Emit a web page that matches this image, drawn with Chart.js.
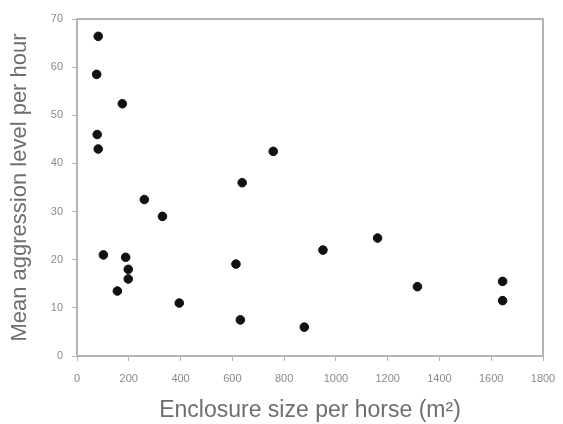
<!DOCTYPE html>
<html>
<head>
<meta charset="utf-8">
<script src="https://cdn.jsdelivr.net/npm/chart.js@4"></script>
<style>
  html, body { margin: 0; padding: 0; background: #fff; }
  #wrap { width: 563px; height: 424px; }
</style>
</head>
<body>
<div id="wrap"><canvas id="scatterCanvas" width="563" height="424"></canvas></div>
<script>
// Enclosure size per horse (m2) and mean aggression level per hour
const enclosureSize = [82, 76, 175, 78, 82, 260, 330, 102, 188, 198, 198, 156, 395,
  614, 631, 878, 950, 1161, 1315, 1644, 1644, 758, 638];
const aggression = [66.4, 58.5, 52.4, 46, 43, 32.5, 29, 21, 20.5, 18, 16, 13.5, 11,
  19.1, 7.5, 6, 22, 24.5, 14.4, 15.5, 11.5, 42.5, 36];

const xTicks = [0, 200, 400, 600, 800, 1000, 1200, 1400, 1600, 1800];
const yTicks = [0, 10, 20, 30, 40, 50, 60, 70];

const points = enclosureSize.map((x, i) => ({ x: x, y: aggression[i] }));

// Grey box round the plot area
const frame = {
  id: 'frame',
  afterDatasetsDraw(chart) {
    const a = chart.chartArea;
    const ctx = chart.ctx;
    ctx.save();
    ctx.strokeStyle = '#b4b4b4';
    ctx.lineWidth = 2;
    ctx.strokeRect(a.left, a.top, a.right - a.left, a.bottom - a.top);
    ctx.restore();
  }
};

const tickFont = { family: 'Liberation Sans', size: 11 };

new Chart(document.getElementById('scatterCanvas'), {
  type: 'scatter',
  data: {
    datasets: [{
      data: points,
      backgroundColor: '#111',
      borderColor: '#111',
      pointRadius: 4.3
    }]
  },
  options: {
    responsive: false,
    animation: false,
    layout: { padding: { left: 0, top: 19, right: 20, bottom: 0 } },
    plugins: { legend: { display: false }, tooltip: { enabled: false } },
    scales: {
      x: {
        type: 'linear',
        min: 0,
        max: 1800,
        afterBuildTicks: s => { s.ticks = xTicks.map(v => ({ value: v })); },
        afterFit: s => { s.height = 68; s.paddingRight = 0; s.paddingLeft = 0; },
        grid: { drawOnChartArea: false, tickLength: 5, color: '#b4b4b4', lineWidth: 1 },
        border: { display: false },
        ticks: { color: '#8a8a8a', font: tickFont, padding: 11, maxRotation: 0, callback: v => String(v) },
        title: {
          display: true,
          text: 'Enclosure size per horse (m²)',
          color: '#6e6e6e',
          font: { family: 'Liberation Sans', size: 23 },
          padding: { top: 0, bottom: 0 }
        }
      },
      y: {
        type: 'linear',
        min: 0,
        max: 70,
        afterBuildTicks: s => { s.ticks = yTicks.map(v => ({ value: v })); },
        afterFit: s => { s.width = 77; s.paddingTop = 0; s.paddingBottom = 0; },
        grid: { drawOnChartArea: false, tickLength: 5, color: '#b4b4b4', lineWidth: 1 },
        border: { display: false },
        ticks: { color: '#8a8a8a', font: tickFont, padding: 9, callback: v => String(v) },
        title: {
          display: true,
          text: 'Mean aggression level per hour',
          color: '#6e6e6e',
          font: { family: 'Liberation Sans', size: 22 },
          padding: { top: 7, bottom: 0 }
        }
      }
    }
  },
  plugins: [frame]
});
</script>
</body>
</html>
